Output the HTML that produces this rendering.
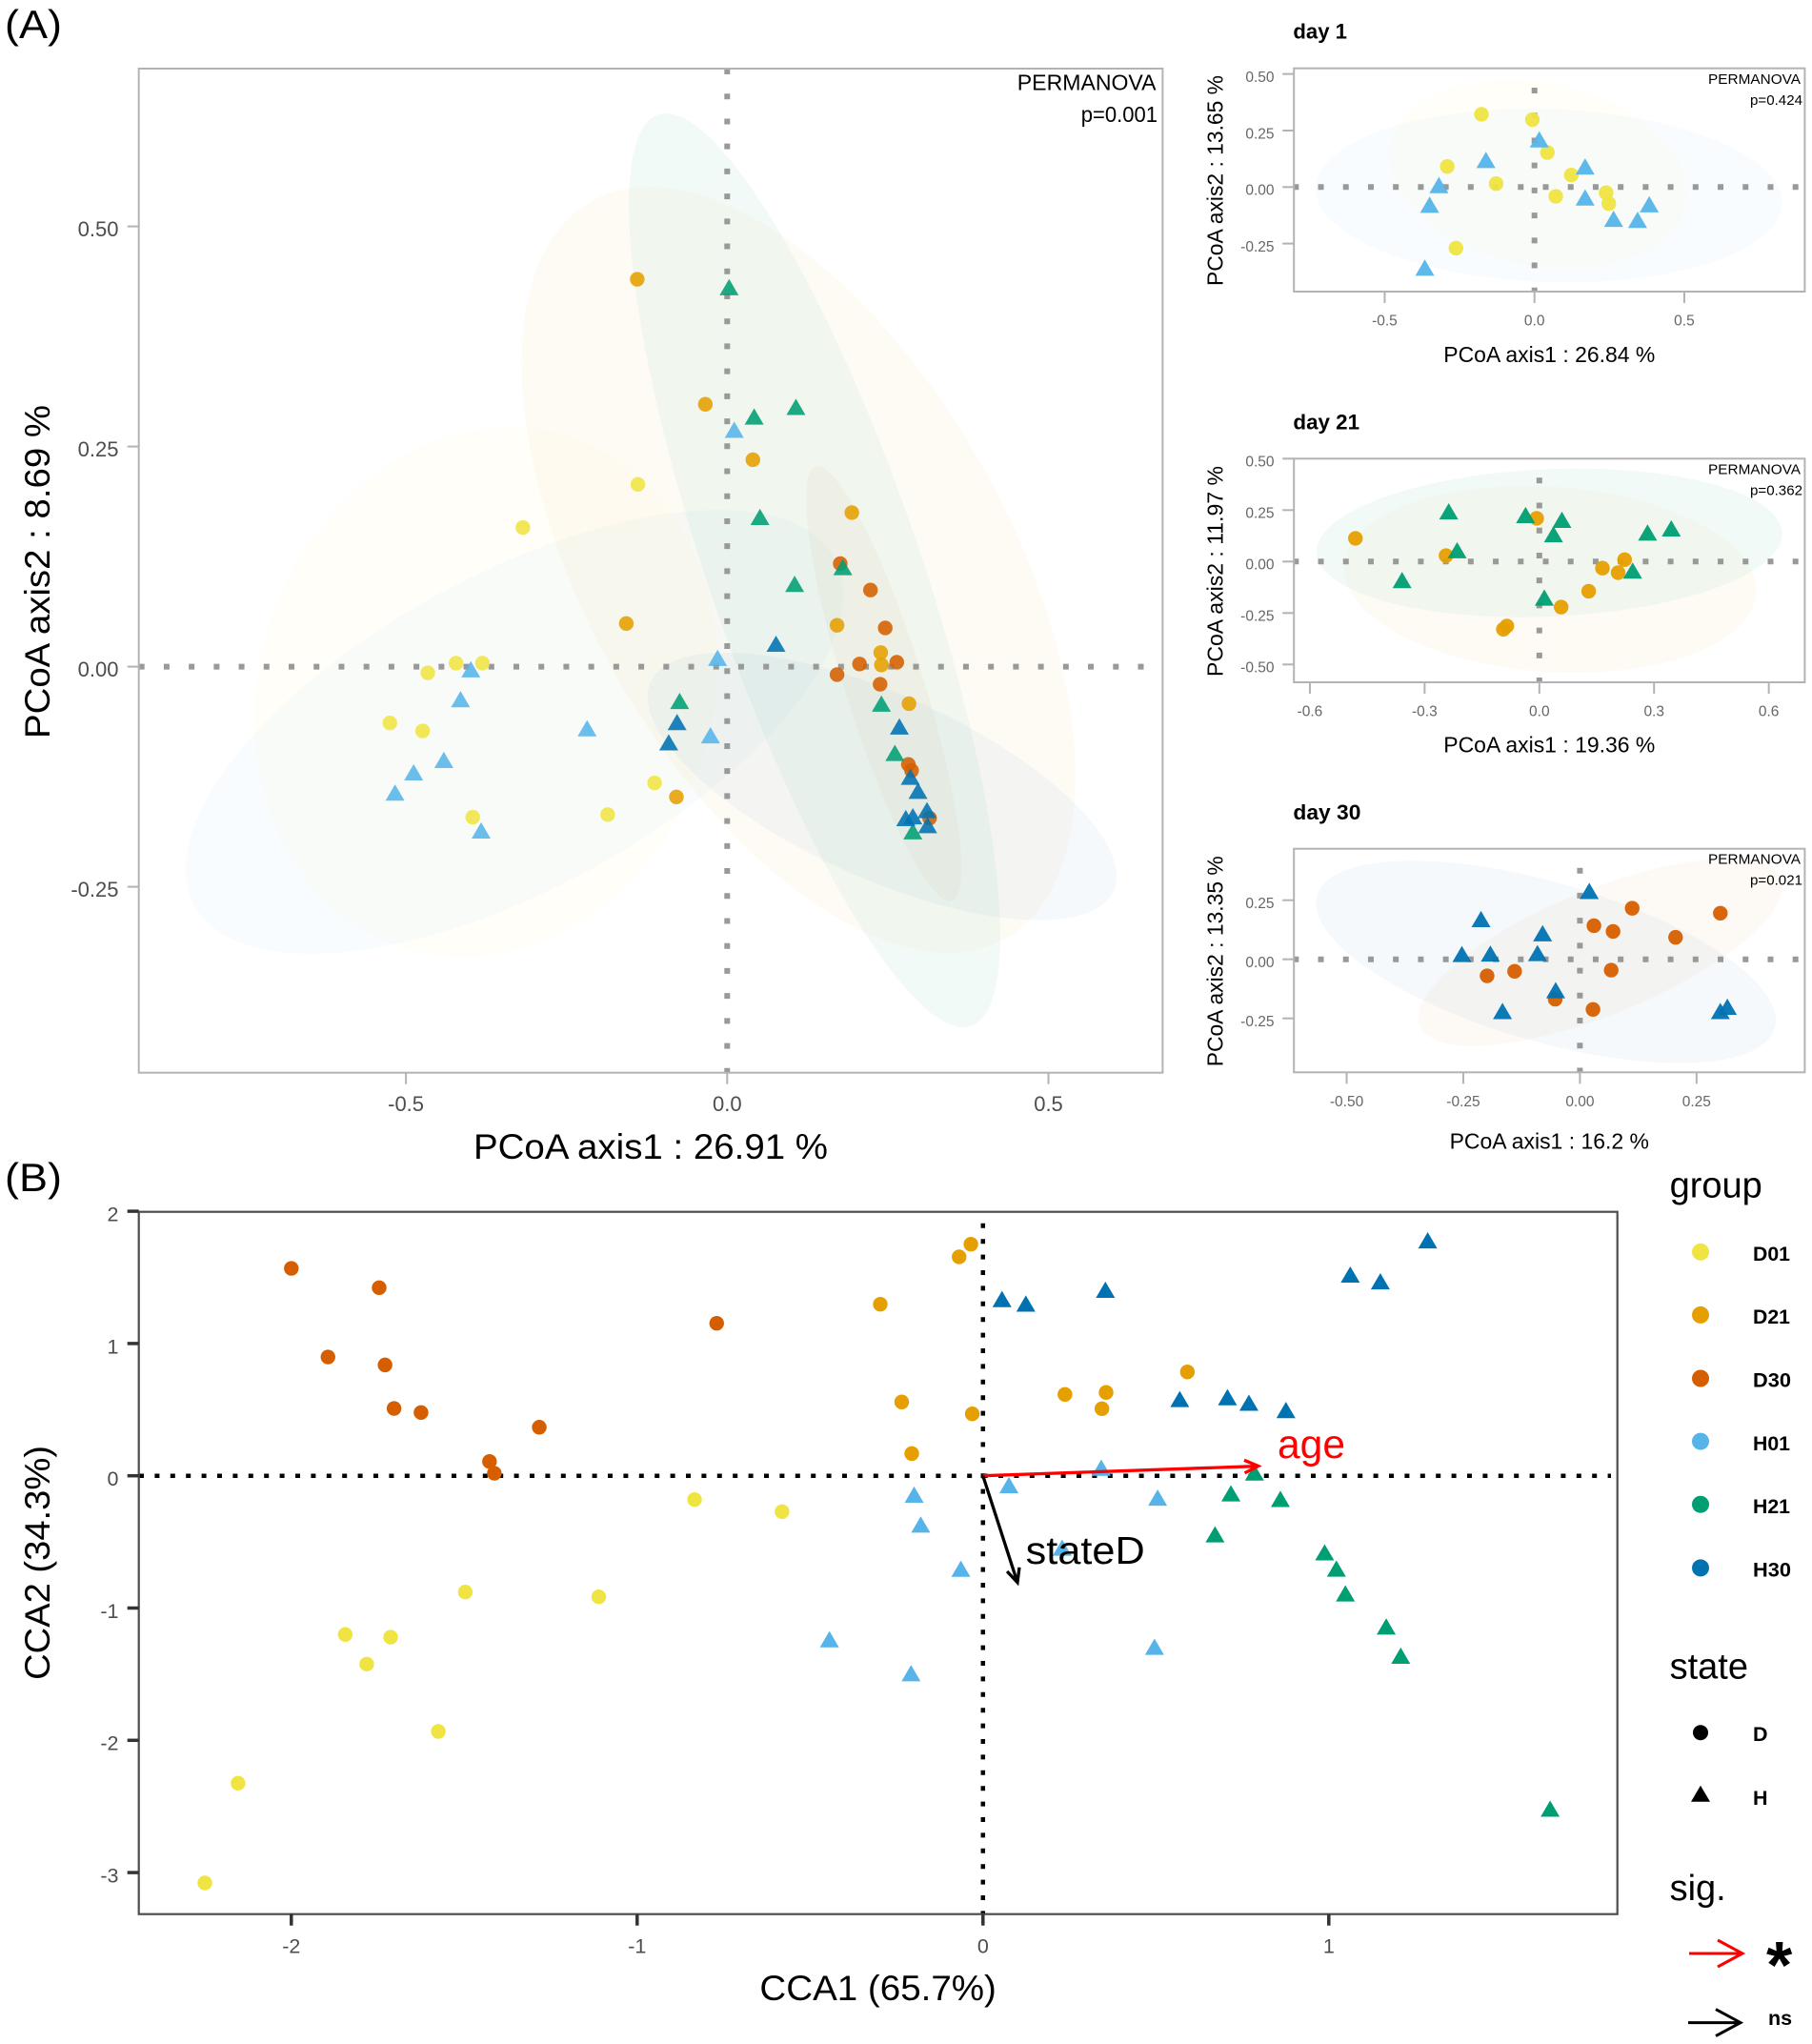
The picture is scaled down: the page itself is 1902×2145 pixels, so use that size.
<!DOCTYPE html>
<html lang="en">
<head>
<meta charset="utf-8">
<title>PCoA and CCA ordination plots</title>
<style>
html,body{margin:0;padding:0;background:#fff;}
svg{display:block;font-family:"Liberation Sans",Arial,sans-serif;}
</style>
</head>
<body>
<svg id="figure" xmlns="http://www.w3.org/2000/svg" width="1902" height="2145" viewBox="0 0 1902 2145">
  <rect x="0" y="0" width="1902" height="2145" fill="#ffffff"/>
  <g id="marks-layer"></g>

  <g fill="#000">
    <text x="5" y="40" font-size="42" textLength="60" lengthAdjust="spacingAndGlyphs">(A)</text>
    <text x="497" y="1216" font-size="37" textLength="372" lengthAdjust="spacingAndGlyphs">PCoA axis1 : 26.91 %</text>
    <text transform="translate(52,775) rotate(-90)" font-size="37" textLength="350" lengthAdjust="spacingAndGlyphs">PCoA axis2 : 8.69 %</text>
    <text x="1067.8" y="94.3" font-size="23" textLength="145.7" lengthAdjust="spacingAndGlyphs">PERMANOVA</text>
    <text x="1134.7" y="127.8" font-size="23" textLength="80.3" lengthAdjust="spacingAndGlyphs">p=0.001</text>

    <text x="1357.4" y="40.7" font-size="22" font-weight="bold" textLength="56.6" lengthAdjust="spacingAndGlyphs">day 1</text>
    <text x="1515.3" y="380" font-size="23" textLength="222" lengthAdjust="spacingAndGlyphs">PCoA axis1 : 26.84 %</text>
    <text transform="translate(1283.5,300) rotate(-90)" font-size="23" textLength="221" lengthAdjust="spacingAndGlyphs">PCoA axis2 : 13.65 %</text>
    <text x="1793" y="88" font-size="15" textLength="97" lengthAdjust="spacingAndGlyphs">PERMANOVA</text>
    <text x="1837" y="110" font-size="15" textLength="55" lengthAdjust="spacingAndGlyphs">p=0.424</text>

    <text x="1357.4" y="450.7" font-size="22" font-weight="bold" textLength="69.7" lengthAdjust="spacingAndGlyphs">day 21</text>
    <text x="1515.3" y="789.3" font-size="23" textLength="222" lengthAdjust="spacingAndGlyphs">PCoA axis1 : 19.36 %</text>
    <text transform="translate(1283.5,710) rotate(-90)" font-size="23" textLength="221" lengthAdjust="spacingAndGlyphs">PCoA axis2 : 11.97 %</text>
    <text x="1793" y="497.3" font-size="15" textLength="97" lengthAdjust="spacingAndGlyphs">PERMANOVA</text>
    <text x="1837" y="519.3" font-size="15" textLength="55" lengthAdjust="spacingAndGlyphs">p=0.362</text>

    <text x="1357.4" y="860" font-size="22" font-weight="bold" textLength="71" lengthAdjust="spacingAndGlyphs">day 30</text>
    <text x="1521.6" y="1205.3" font-size="23" textLength="209.4" lengthAdjust="spacingAndGlyphs">PCoA axis1 : 16.2 %</text>
    <text transform="translate(1283.5,1119.3) rotate(-90)" font-size="23" textLength="221" lengthAdjust="spacingAndGlyphs">PCoA axis2 : 13.35 %</text>
    <text x="1793" y="906.7" font-size="15" textLength="97" lengthAdjust="spacingAndGlyphs">PERMANOVA</text>
    <text x="1837" y="928.7" font-size="15" textLength="55" lengthAdjust="spacingAndGlyphs">p=0.021</text>
  </g>

  <g fill="#000">
    <text x="5" y="1250" font-size="42" textLength="60" lengthAdjust="spacingAndGlyphs">(B)</text>
    <text x="797.4" y="2099" font-size="37" textLength="248.5" lengthAdjust="spacingAndGlyphs">CCA1 (65.7%)</text>
    <text transform="translate(52,1763) rotate(-90)" font-size="37" textLength="246" lengthAdjust="spacingAndGlyphs">CCA2 (34.3%)</text>
    <text x="1341" y="1530" font-size="43" fill="#ff0000" textLength="71" lengthAdjust="spacingAndGlyphs">age</text>
    <text x="1076.7" y="1641" font-size="41" textLength="125" lengthAdjust="spacingAndGlyphs">stateD</text>
  </g>

  <g fill="#000">
    <text x="1752.6" y="1256.6" font-size="38">group</text>
    <g>
      <circle cx="1785" cy="1313.8" r="9" fill="#F0E442"/>
      <text x="1840" y="1323" font-size="21.5" font-weight="bold" textLength="39" lengthAdjust="spacingAndGlyphs">D01</text>
    </g>
    <g>
      <circle cx="1785" cy="1379.9" r="9" fill="#E69F00"/>
      <text x="1840" y="1389.1" font-size="21.5" font-weight="bold" textLength="39" lengthAdjust="spacingAndGlyphs">D21</text>
    </g>
    <g>
      <circle cx="1785" cy="1446.5" r="9" fill="#D55E00"/>
      <text x="1840" y="1455.7" font-size="21.5" font-weight="bold" textLength="40" lengthAdjust="spacingAndGlyphs">D30</text>
    </g>
    <g>
      <circle cx="1785" cy="1512.6" r="9" fill="#56B4E9"/>
      <text x="1840" y="1521.8" font-size="21.5" font-weight="bold" textLength="39" lengthAdjust="spacingAndGlyphs">H01</text>
    </g>
    <g>
      <circle cx="1785" cy="1578.7" r="9" fill="#009E73"/>
      <text x="1840" y="1587.9" font-size="21.5" font-weight="bold" textLength="39" lengthAdjust="spacingAndGlyphs">H21</text>
    </g>
    <g>
      <circle cx="1785" cy="1645.4" r="9" fill="#0072B2"/>
      <text x="1840" y="1654.6" font-size="21.5" font-weight="bold" textLength="40" lengthAdjust="spacingAndGlyphs">H30</text>
    </g>

    <text x="1752.6" y="1761.6" font-size="38">state</text>
    <g>
      <circle cx="1785" cy="1818.2" r="8" fill="#000"/>
      <text x="1840" y="1827" font-size="21.5" font-weight="bold">D</text>
    </g>
    <g>
      <polygon points="1785,1873.7 1795,1890.8 1775,1890.8" fill="#000"/>
      <text x="1840" y="1893.9" font-size="21.5" font-weight="bold">H</text>
    </g>

    <text x="1752.6" y="1994" font-size="38">sig.</text>
    <g>
      <path d="M1773,2050 H1829 M1803,2036 L1829,2050 L1803,2064" fill="none" stroke="#ff0000" stroke-width="3"/>
      <text x="1854" y="2086" font-size="70" font-weight="bold">*</text>
    </g>
    <g>
      <path d="M1772,2122.6 H1827 M1801,2108.6 L1827,2122.6 L1801,2136.6" fill="none" stroke="#000000" stroke-width="3"/>
      <text x="1856" y="2125" font-size="21.5" font-weight="bold">ns</text>
    </g>
  </g>
</svg>

<script>
// ---------- main PCoA panel data ----------
const mainD01 = [[-0.318,0.158],[-0.139,0.207],[-0.466,-0.007],[-0.422,0.004],[-0.381,0.004],[-0.525,-0.064],[-0.474,-0.073],[-0.396,-0.171],[-0.186,-0.168],[-0.113,-0.132]];
const mainD21 = [[-0.140,0.440],[-0.034,0.298],[0.040,0.235],[0.194,0.175],[-0.157,0.049],[0.171,0.047],[0.239,0.016],[0.240,0.002],[0.283,-0.042],[-0.079,-0.148]];
const mainD30 = [[0.176,0.117],[0.223,0.087],[0.246,0.044],[0.206,0.003],[0.264,0.005],[0.171,-0.009],[0.238,-0.020],[0.282,-0.111],[0.287,-0.118],[0.315,-0.172]];
const mainH01 = [[0.011,0.266],[-0.399,-0.006],[-0.415,-0.040],[-0.218,-0.073],[-0.441,-0.109],[-0.488,-0.123],[-0.517,-0.146],[-0.383,-0.189],[-0.015,0.007],[-0.026,-0.081]];
const mainH21 = [[0.003,0.428],[0.042,0.281],[0.107,0.292],[0.051,0.167],[0.180,0.110],[0.105,0.091],[-0.074,-0.042],[0.240,-0.045],[0.261,-0.101],[0.289,-0.190]];
const mainH30 = [[0.076,0.023],[-0.078,-0.066],[-0.091,-0.089],[0.268,-0.071],[0.285,-0.128],[0.297,-0.144],[0.278,-0.175],[0.289,-0.173],[0.311,-0.166],[0.312,-0.183]];
// ellipses: centre x, centre y, half-width, half-height, correlation
const mainEllipseD01 = [-0.376,-0.029,0.360,0.301,0.10];
const mainEllipseD21 = [0.111,0.110,0.431,0.435,-0.54];
const mainEllipseD30 = [0.2436,-0.019,0.121,0.247,-0.85];
const mainEllipseH01 = [-0.331,-0.074,0.512,0.252,0.62];
const mainEllipseH21 = [0.136,0.1095,0.289,0.519,-0.80];
const mainEllipseH30 = [0.241,-0.136,0.365,0.152,-0.67];
const mainXTicks = ['-0.5','0.0','0.5'];
const mainYTicks = ['0.50','0.25','0.00','-0.25'];

// ---------- day 1 data ----------
const day1D01 = [[-0.177,0.322],[-0.007,0.298],[0.043,0.153],[-0.291,0.091],[0.123,0.053],[-0.128,0.015],[0.071,-0.041],[0.239,-0.025],[0.248,-0.073],[-0.262,-0.270]];
const day1H01 = [[0.016,0.199],[-0.162,0.108],[0.169,0.079],[-0.319,-0.003],[0.169,-0.058],[-0.350,-0.090],[0.383,-0.088],[0.264,-0.152],[0.344,-0.157],[-0.366,-0.368]];
const day1EllipseD01 = [0.012,0.059,0.498,0.418,-0.20];
const day1EllipseH01 = [0.048,-0.038,0.778,0.384,-0.08];
const day1XTicks = ['-0.5','0.0','0.5'];
const day1YTicks = ['0.50','0.25','0.00','-0.25'];

// ---------- day 21 data ----------
const day21D21 = [[-0.481,0.113],[-0.244,0.029],[-0.007,0.210],[0.223,0.009],[0.165,-0.032],[0.206,-0.054],[0.129,-0.144],[0.057,-0.221],[-0.085,-0.313],[-0.094,-0.329]];
const day21H21 = [[-0.237,0.231],[-0.036,0.213],[0.059,0.190],[0.037,0.120],[0.283,0.128],[0.345,0.148],[-0.215,0.042],[-0.359,-0.103],[0.244,-0.057],[0.013,-0.188]];
const day21EllipseD21 = [0.028,-0.086,0.539,0.454,-0.12];
const day21EllipseH21 = [0.026,0.091,0.609,0.361,0.12];
const day21XTicks = ['-0.6','-0.3','0.0','0.3','0.6'];
const day21YTicks = ['0.50','0.25','0.00','-0.25','-0.50'];

// ---------- day 30 data ----------
const day30D30 = [[0.112,0.216],[0.301,0.195],[0.030,0.142],[0.071,0.118],[0.205,0.093],[0.067,-0.046],[-0.140,-0.051],[-0.199,-0.070],[-0.053,-0.169],[0.028,-0.212]];
const day30H30 = [[0.020,0.278],[-0.212,0.159],[-0.080,0.099],[-0.253,0.011],[-0.192,0.013],[-0.091,0.015],[-0.052,-0.142],[-0.166,-0.230],[0.301,-0.230],[0.316,-0.212]];
const day30EllipseD30 = [0.044,0.030,0.390,0.396,0.70];
const day30EllipseH30 = [-0.073,-0.011,0.493,0.428,-0.58];
const day30XTicks = ['-0.50','-0.25','0.00','0.25'];
const day30YTicks = ['0.25','0.00','-0.25'];

// ---------- CCA panel data ----------
const ccaD01 = [[-1.497,-0.879],[-1.111,-0.915],[-1.844,-1.200],[-1.713,-1.220],[-1.782,-1.424],[-1.575,-1.933],[-2.154,-2.324],[-2.250,-3.078],[-0.834,-0.180],[-0.581,-0.271]];
const ccaD21 = [[-0.035,1.751],[-0.069,1.655],[-0.297,1.297],[-0.235,0.558],[-0.031,0.468],[-0.206,0.168],[0.237,0.615],[0.356,0.630],[0.344,0.507],[0.591,0.785]];
const ccaD30 = [[-2.000,1.568],[-1.746,1.422],[-1.894,0.898],[-1.729,0.838],[-1.703,0.509],[-1.625,0.478],[-1.283,0.367],[-1.427,0.108],[-1.413,0.019],[-0.770,1.153]];
const ccaH01 = [[0.342,0.041],[0.075,-0.091],[-0.199,-0.163],[0.505,-0.185],[-0.180,-0.389],[0.229,-0.564],[-0.064,-0.723],[-0.444,-1.256],[-0.208,-1.513],[0.496,-1.313]];
const ccaH21 = [[0.671,-0.463],[0.785,0.005],[0.717,-0.153],[0.860,-0.195],[0.988,-0.599],[1.022,-0.722],[1.048,-0.909],[1.166,-1.160],[1.208,-1.380],[1.640,-2.537]];
const ccaH30 = [[0.055,1.316],[0.124,1.282],[0.354,1.386],[0.569,0.560],[0.707,0.574],[0.769,0.532],[0.876,0.477],[1.062,1.501],[1.149,1.450],[1.286,1.760]];
const ccaAgeArrow = [0.796,0.073];
const ccaStateArrow = [0.0997,-0.807];
const ccaXTicks = ['-2','-1','0','1'];
const ccaYTicks = ['2','1','0','-1','-2','-3'];

// ---------- colours ----------
const colD01 = '#F0E442';
const colD21 = '#E69F00';
const colD30 = '#D55E00';
const colH01 = '#56B4E9';
const colH21 = '#009E73';
const colH30 = '#0072B2';

const SVGNS = 'http://www.w3.org/2000/svg';
const layer = document.getElementById('marks-layer');

function make(parent, tag, attrs) {
  const el = document.createElementNS(SVGNS, tag);
  for (const k in attrs) el.setAttribute(k, attrs[k]);
  parent.appendChild(el);
  return el;
}

// axis functions: a panel is defined by the pixel position of data zero and pixels per unit
function xAxis(panel, v) { return panel.x0 + v * panel.kx; }
function yAxis(panel, v) { return panel.y0 - v * panel.ky; }

function drawEllipse(parent, panel, params, color, fillAlpha, name) {
  const [cx, cy, sx, sy, rho] = params;
  const phi = Math.acos(rho);
  let d = '';
  for (let i = 0; i < 120; i++) {
    const t = i / 120 * 2 * Math.PI;
    const px = xAxis(panel, cx + sx * Math.cos(t));
    const py = yAxis(panel, cy + sy * Math.cos(t + phi));
    d += (i ? 'L' : 'M') + px.toFixed(2) + ',' + py.toFixed(2);
  }
  const el = make(parent, 'path', {d: d + 'Z', fill: color, 'fill-opacity': fillAlpha});
  
  
}

function drawCircles(parent, panel, pts, color, opacity, name) {
  for (const [vx, vy] of pts) {
    const el = make(parent, 'circle', {cx: xAxis(panel, vx), cy: yAxis(panel, vy), r: 7.7, fill: color, opacity: opacity});
    
    
  }
}

function drawTriangles(parent, panel, pts, color, opacity, name) {
  for (const [vx, vy] of pts) {
    const px = xAxis(panel, vx);
    const py = yAxis(panel, vy);
    const p = [[px, py - 11.4], [px + 10, py + 5.7], [px - 10, py + 5.7]].map(q => q[0].toFixed(2) + ',' + q[1].toFixed(2)).join(' ');
    const el = make(parent, 'polygon', {points: p, fill: color, opacity: opacity});
    
    
  }
}

function drawFrame(parent, panel, stroke, width, name) {
  const el = make(parent, 'rect', {x: panel.left, y: panel.top, width: panel.right - panel.left, height: panel.bottom - panel.top, fill: 'none', stroke: stroke, 'stroke-width': width});
  
  
}

function drawRefLines(parent, panel, style, prefix) {
  const h = make(parent, 'line', {x1: style.hFrom, x2: style.hTo, y1: yAxis(panel, 0), y2: yAxis(panel, 0), stroke: style.color, 'stroke-width': style.width, 'stroke-dasharray': style.dash});
  
  
  const v = make(parent, 'line', {x1: xAxis(panel, 0), x2: xAxis(panel, 0), y1: style.vFrom, y2: style.vTo, stroke: style.color, 'stroke-width': style.width, 'stroke-dasharray': style.dash});
  
  
}

function drawAxes(parent, panel, xTicks, yTicks, style, prefix) {
  for (const label of xTicks) {
    const px = xAxis(panel, Number(label));
    const tick = make(parent, 'line', {x1: px, x2: px, y1: panel.bottom, y2: panel.bottom + style.tickLen, stroke: style.tickColor, 'stroke-width': style.tickWidth});
    
    
    const text = make(parent, 'text', {x: px, y: style.xBaseline, 'text-anchor': 'middle', 'font-size': style.font, fill: style.textColor});
    
    
    text.textContent = label;
  }
  for (const label of yTicks) {
    const py = yAxis(panel, Number(label));
    const tick = make(parent, 'line', {x1: panel.left - style.tickLen, x2: panel.left, y1: py, y2: py, stroke: style.tickColor, 'stroke-width': style.tickWidth});
    
    
    const text = make(parent, 'text', {x: style.yLabelX, y: py + style.yOffset, 'text-anchor': 'end', 'font-size': style.font, fill: style.textColor});
    
    
    text.textContent = label;
  }
}

function drawBiplotArrow(parent, panel, vec, color, name) {
  const x1 = xAxis(panel, 0), y1 = yAxis(panel, 0);
  const x2 = xAxis(panel, vec[0]), y2 = yAxis(panel, vec[1]);
  const ang = Math.atan2(y2 - y1, x2 - x1);
  const wing = 16, spread = 25 * Math.PI / 180;
  const ax = x2 - wing * Math.cos(ang - spread), ay = y2 - wing * Math.sin(ang - spread);
  const bx = x2 - wing * Math.cos(ang + spread), by = y2 - wing * Math.sin(ang + spread);
  const d = 'M' + x1 + ',' + y1 + 'L' + x2 + ',' + y2 + 'M' + ax + ',' + ay + 'L' + x2 + ',' + y2 + 'L' + bx + ',' + by;
  const el = make(parent, 'path', {d: d, fill: 'none', stroke: color, 'stroke-width': 3.3});
  
  
}

function panelGroup(name) {
  const g = make(layer, 'g', {});
  
  
  return g;
}

const greyAxisLarge = {tickLen: 12, tickColor: '#b3b3b3', tickWidth: 2, font: 22, textColor: '#4d4d4d', yLabelX: 124.5, yOffset: 10.2, xBaseline: 1166};
const greyDots = '6 20.22';
const alphaYellow = 0.03;
const alphaOrange = 0.04;
const alphaDark = 0.04;
const alphaBlue = 0.04;
const alphaGreen = 0.05;

// ---- main panel ----
const mainPanel = {x0: 763.3, kx: 674.4, y0: 699.6, ky: 924, left: 145.7, right: 1220.4, top: 72, bottom: 1125.7};
const gMain = panelGroup('main-pcoa-panel');
drawEllipse(gMain, mainPanel, mainEllipseD01, colD01, alphaYellow, 'ellipse-d01');
drawEllipse(gMain, mainPanel, mainEllipseD21, colD21, alphaOrange, 'ellipse-d21');
drawEllipse(gMain, mainPanel, mainEllipseD30, colD30, alphaDark, 'ellipse-d30');
drawEllipse(gMain, mainPanel, mainEllipseH01, colH01, alphaBlue, 'ellipse-h01');
drawEllipse(gMain, mainPanel, mainEllipseH21, colH21, alphaGreen, 'ellipse-h21');
drawEllipse(gMain, mainPanel, mainEllipseH30, colH30, alphaBlue, 'ellipse-h30');
drawRefLines(gMain, mainPanel, {hFrom: 145.7, hTo: 1201, vFrom: 72, vTo: 1126, color: '#999999', width: 6, dash: greyDots}, 'main');
drawCircles(gMain, mainPanel, mainD01, colD01, 0.88, 'point-d01');
drawCircles(gMain, mainPanel, mainD21, colD21, 0.88, 'point-d21');
drawCircles(gMain, mainPanel, mainD30, colD30, 0.88, 'point-d30');
drawTriangles(gMain, mainPanel, mainH01, colH01, 0.88, 'point-h01');
drawTriangles(gMain, mainPanel, mainH21, colH21, 0.88, 'point-h21');
drawTriangles(gMain, mainPanel, mainH30, colH30, 0.88, 'point-h30');
drawFrame(gMain, mainPanel, '#b3b3b3', 2, 'main-panel-frame');
drawAxes(gMain, mainPanel, mainXTicks, mainYTicks, greyAxisLarge, 'main');

// ---- day 1 ----
const day1Panel = {x0: 1610.7, kx: 314.5, y0: 196.3, ky: 237.3, left: 1358.2, right: 1894.4, top: 71.7, bottom: 306};
const gDay1 = panelGroup('day1-panel');
drawEllipse(gDay1, day1Panel, day1EllipseD01, colD01, alphaYellow, 'day1-ellipse-d01');
drawEllipse(gDay1, day1Panel, day1EllipseH01, colH01, alphaBlue, 'day1-ellipse-h01');
drawRefLines(gDay1, day1Panel, {hFrom: 1357.3, hTo: 1888, vFrom: 92, vTo: 306, color: '#999999', width: 6, dash: greyDots}, 'day1');
drawCircles(gDay1, day1Panel, day1D01, colD01, 0.95, 'day1-point-d01');
drawTriangles(gDay1, day1Panel, day1H01, colH01, 0.95, 'day1-point-h01');
drawFrame(gDay1, day1Panel, '#b3b3b3', 2, 'day1-panel-frame');
drawAxes(gDay1, day1Panel, day1XTicks, day1YTicks, {tickLen: 12, tickColor: '#b3b3b3', tickWidth: 2, font: 15.5, textColor: '#666666', yLabelX: 1337.5, yOffset: 8.3, xBaseline: 341.7}, 'day1');

// ---- day 21 ----
const day21Panel = {x0: 1615.8, kx: 401.4, y0: 589.3, ky: 216, left: 1358.2, right: 1894.4, top: 481.3, bottom: 716};
const gDay21 = panelGroup('day21-panel');
drawEllipse(gDay21, day21Panel, day21EllipseD21, colD21, alphaOrange, 'day21-ellipse-d21');
drawEllipse(gDay21, day21Panel, day21EllipseH21, colH21, alphaGreen, 'day21-ellipse-h21');
drawRefLines(gDay21, day21Panel, {hFrom: 1357.3, hTo: 1888, vFrom: 501.3, vTo: 716, color: '#999999', width: 6, dash: greyDots}, 'day21');
drawCircles(gDay21, day21Panel, day21D21, colD21, 0.95, 'day21-point-d21');
drawTriangles(gDay21, day21Panel, day21H21, colH21, 0.95, 'day21-point-h21');
drawFrame(gDay21, day21Panel, '#b3b3b3', 2, 'day21-panel-frame');
drawAxes(gDay21, day21Panel, day21XTicks, day21YTicks, {tickLen: 12, tickColor: '#b3b3b3', tickWidth: 2, font: 15.5, textColor: '#666666', yLabelX: 1337.5, yOffset: 8.3, xBaseline: 751.7}, 'day21');

// ---- day 30 ----
const day30Panel = {x0: 1658.4, kx: 489.7, y0: 1006.7, ky: 248, left: 1358.2, right: 1894.4, top: 890.7, bottom: 1125.3};
const gDay30 = panelGroup('day30-panel');
drawEllipse(gDay30, day30Panel, day30EllipseD30, colD30, alphaDark, 'day30-ellipse-d30');
drawEllipse(gDay30, day30Panel, day30EllipseH30, colH30, alphaBlue, 'day30-ellipse-h30');
drawRefLines(gDay30, day30Panel, {hFrom: 1357.3, hTo: 1888, vFrom: 910.7, vTo: 1125, color: '#999999', width: 6, dash: greyDots}, 'day30');
drawCircles(gDay30, day30Panel, day30D30, colD30, 0.95, 'day30-point-d30');
drawTriangles(gDay30, day30Panel, day30H30, colH30, 0.95, 'day30-point-h30');
drawFrame(gDay30, day30Panel, '#b3b3b3', 2, 'day30-panel-frame');
drawAxes(gDay30, day30Panel, day30XTicks, day30YTicks, {tickLen: 12, tickColor: '#b3b3b3', tickWidth: 2, font: 15.5, textColor: '#666666', yLabelX: 1337.5, yOffset: 8.3, xBaseline: 1161}, 'day30');

// ---- CCA panel ----
const ccaPanel = {x0: 1031.8, kx: 363, y0: 1548.7, ky: 138.8, left: 145.7, right: 1697.7, top: 1271.7, bottom: 2008.7};
const gCca = panelGroup('cca-panel');
drawRefLines(gCca, ccaPanel, {hFrom: 146, hTo: 1691, vFrom: 1283.8, vTo: 2009.5, color: '#000000', width: 4.5, dash: '5 11.4'}, 'cca');
drawCircles(gCca, ccaPanel, ccaD01, colD01, 1, 'cca-point-d01');
drawCircles(gCca, ccaPanel, ccaD21, colD21, 1, 'cca-point-d21');
drawCircles(gCca, ccaPanel, ccaD30, colD30, 1, 'cca-point-d30');
drawTriangles(gCca, ccaPanel, ccaH01, colH01, 1, 'cca-point-h01');
drawTriangles(gCca, ccaPanel, ccaH21, colH21, 1, 'cca-point-h21');
drawTriangles(gCca, ccaPanel, ccaH30, colH30, 1, 'cca-point-h30');
drawFrame(gCca, ccaPanel, '#4d4d4d', 2.2, 'cca-panel-frame');
drawAxes(gCca, ccaPanel, ccaXTicks, ccaYTicks, {tickLen: 12, tickColor: '#333333', tickWidth: 3.5, font: 21.5, textColor: '#4d4d4d', yLabelX: 124.5, yOffset: 10.4, xBaseline: 2049.3}, 'cca');
drawBiplotArrow(gCca, ccaPanel, ccaAgeArrow, '#ff0000', 'age-arrow');
drawBiplotArrow(gCca, ccaPanel, ccaStateArrow, '#000000', 'stated-arrow');
</script>
</body>
</html>
